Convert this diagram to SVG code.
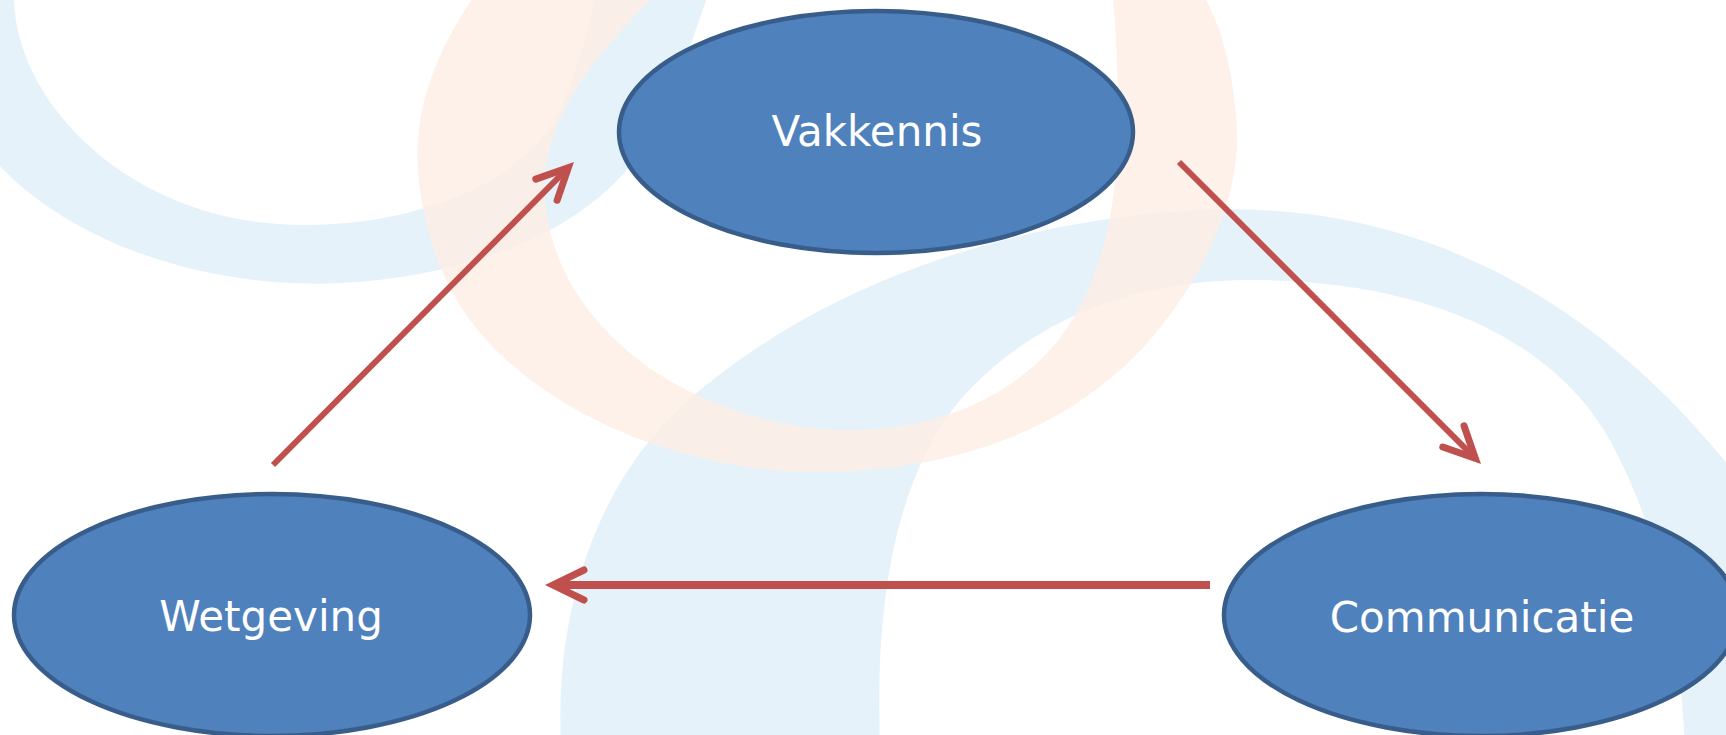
<svg xmlns="http://www.w3.org/2000/svg" width="1726" height="735" viewBox="0 0 1726 735">
  <style>
    .ring-blue { fill: #E6F2F9; fill-rule: evenodd; }
    .ring-orange { fill: #FDEFE5; fill-rule: evenodd; opacity: 0.85; }
    .node ellipse { fill: #4F81BD; stroke: #385D8A; stroke-width: 4.5; }
    .node text { fill: #FFFFFF; font-family: "DejaVu Sans", Verdana, sans-serif; font-size: 42px; text-anchor: middle; }
    .conn { fill: none; stroke: #C0504D; }
  </style>
  <defs>
    <marker id="arrow" markerUnits="userSpaceOnUse" viewBox="-40 -22 50 44" refX="0" refY="0" markerWidth="50" markerHeight="44" orient="auto" overflow="visible">
      <path d="M -31,-15 L 0,0 L -31,15" fill="none" stroke="#C0504D" stroke-width="7" stroke-linecap="round" stroke-linejoin="miter" stroke-miterlimit="10"/>
    </marker>
  </defs>
  <rect x="0" y="0" width="1726" height="735" fill="#FFFFFF"/>
  <g id="background">
    <!-- top-left blue ring -->
    <path class="ring-blue" d="M -10,155 C 60,238 200,290 340,283 C 480,276 610,225 660,120 C 680,80 695,30 710,-10 L -10,-10 Z
             M 14,-10 C 10,100 130,225 303,225 C 430,225 530,175 560,110 C 578,70 590,25 596,-10 Z"/>
    <!-- big blue ring bottom-right -->
    <path class="ring-blue" d="M 561,745 C 555,620 590,480 700,390 C 820,290 1000,220 1200,210 C 1420,200 1600,300 1740,480 L 1740,745 Z
             M 880,745 C 875,600 895,480 960,400 C 1040,310 1150,280 1250,280 C 1410,280 1560,330 1620,460 C 1660,540 1680,640 1685,745 Z"/>
    <!-- orange ring -->
    <path class="ring-orange" d="M 478,-10 C 430,60 410,120 420,190 C 435,290 480,350 560,400 C 640,450 740,474 830,472 C 960,468 1070,430 1150,340 C 1210,270 1240,190 1237,130 C 1234,70 1220,20 1200,-10 Z
             M 660,-10 C 600,50 548,110 545,180 C 542,260 590,330 660,375 C 720,412 790,432 860,430 C 930,428 990,405 1035,365 C 1085,320 1110,250 1116,170 C 1120,100 1117,40 1112,-10 Z"/>
  </g>
  <g id="connectors">
    <path class="conn" d="M 273,465 L 568.3,167.7" stroke-width="6" marker-end="url(#arrow)"/>
    <path class="conn" d="M 1179,162 L 1475.3,458.3" stroke-width="6" marker-end="url(#arrow)"/>
    <path class="conn" d="M 1210,585 L 553,585" stroke-width="8" marker-end="url(#arrow)"/>
  </g>
  <g id="node-vakkennis" class="node">
    <ellipse cx="876" cy="132" rx="257" ry="121"/>
    <text x="877" y="146">Vakkennis</text>
  </g>
  <g id="node-wetgeving" class="node">
    <ellipse cx="272" cy="615" rx="258" ry="121"/>
    <text x="271" y="631">Wetgeving</text>
  </g>
  <g id="node-communicatie" class="node">
    <ellipse cx="1481" cy="615" rx="257" ry="121"/>
    <text x="1482" y="632">Communicatie</text>
  </g>
</svg>
